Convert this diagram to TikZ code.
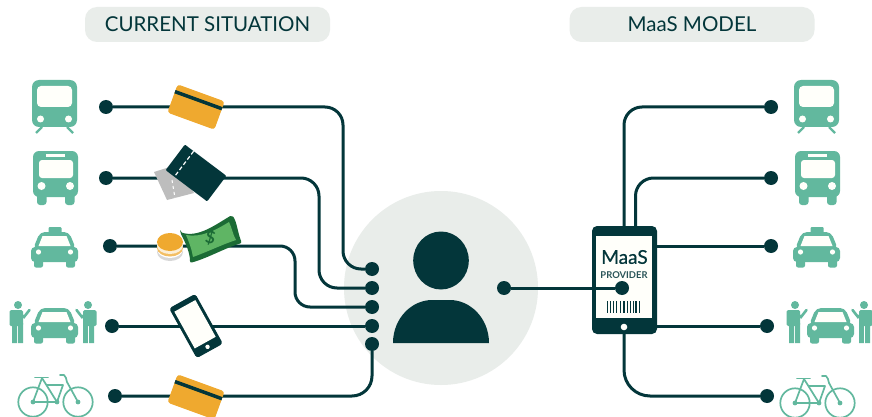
\documentclass[tikz,border=0pt]{standalone}
\usepackage{fontspec}
\setmainfont{Lato}
\usetikzlibrary{calc}
\definecolor{ink}{HTML}{03363A}
\definecolor{mint}{HTML}{62B89E}
\definecolor{pale}{HTML}{E9EDEA}
\definecolor{gold}{HTML}{EFA92F}
\definecolor{tick}{HTML}{BDBDBD}
\definecolor{billd}{HTML}{1B6B35}
\definecolor{billl}{HTML}{5FB564}
\definecolor{paper}{HTML}{FFFFFA}
\tikzset{
  x=1pt,y=-1pt,
  dot/.style={circle,fill=ink,draw=none,minimum size=14pt,inner sep=0pt},
  conn/.style={draw=ink,line width=3pt,rounded corners=18pt},
  header/.style={fill=pale,rounded corners=12pt,minimum width=245pt,minimum height=35pt,inner sep=0pt,text=ink,font=\fontsize{20.5}{22}\selectfont},
  trainicon/.pic={
    \fill[mint,rounded corners=7pt] (32,80) rectangle (77,127);
    \fill[paper,rounded corners=4pt] (37,86) rectangle (72,107);
    \fill[paper] (40.5,119) circle (3.5) (68.5,119) circle (3.5);
    \draw[mint,line width=2.4pt] (42,127) -- (36,133) (67,127) -- (73,133);
  },
  busicon/.pic={
    \fill[mint,rounded corners=6pt] (33,151) rectangle (78,197);
    \fill[mint,rounded corners=3pt] (37,190) rectangle (46.5,205) (65,190) rectangle (74.5,205);
    \fill[paper,rounded corners=3pt] (39,160) rectangle (73,178);
    \fill[paper] (46,153.5) rectangle (65,156.5);
    \fill[paper] (41.5,186) circle (4) (70,186) circle (4);
  },
  caricon/.pic={
    \fill[mint,rounded corners=2pt] (34,335) rectangle (43,343.5) (66,335) rectangle (75,343.5);
    \fill[mint,rounded corners=4pt] (31,323) rectangle (78,338);
    \fill[mint,rounded corners=5pt] (40,308) -- (69,308) -- (76,325) -- (33,325) -- cycle;
    \fill[paper] (42.5,312) -- (66.5,312) -- (70.5,322) -- (38.5,322) -- cycle;
    \fill[paper] (38.5,328) circle (2.6) (70.5,328) circle (2.6);
  },
  taxilamp/.pic={\fill[mint,rounded corners=1pt] (48.5,227) rectangle (61.5,234);},
  manicon/.pic={
    \fill[mint] (0,-18) circle (4);
    \fill[mint,rounded corners=1.5pt] (-8.5,-13) rectangle (5,3);
    \fill[mint] (-6,0) rectangle (-1,20) (0.2,0) rectangle (5,20);
    \draw[mint,line width=2.6pt,line cap=round] (3.5,-8) -- (6,-6) -- (11.5,-13);
  },
  bikeicon/.pic={
    \draw[mint,line width=1.7pt] (33,402) circle (14.7) (78,402) circle (14.7);
    \draw[mint,line width=1.7pt,line join=round] (33,402) -- (57,402) -- (42,378) -- cycle;
    \draw[mint,line width=1.7pt,line join=round] (46,385) -- (63,385) -- (57,402);
    \draw[mint,line width=1.7pt,line cap=round,line join=round] (35,377.5) -- (48,377.5);
    \draw[mint,line width=1.7pt,line cap=round,line join=round] (60,375) -- (64,375) .. controls (66,376) and (66,379) .. (67,382) -- (78,402);
    \fill[mint] (33,402) circle (2.4) (57,402) circle (2.4) (78,402) circle (2.4);
  },
  cardicon/.pic={
    \fill[gold,rounded corners=3pt] (-25,-15) rectangle (25,15);
    \fill[ink] (-25,-9) rectangle (25,-5.5);
  },
}
\begin{document}
\begin{tikzpicture}
\useasboundingbox (0,0) rectangle (872,417);
\fill[white] (0,0) rectangle (872,417);
\node[header] (h1) at (207.5,24.5) {CURRENT SITUATION};
\node[header] (h2) at (692,24.5) {MaaS MODEL};
\node[circle,fill=pale,minimum size=194pt,inner sep=0pt] (hubbg) at (441,288) {};
% nodes of connectors
\node[dot] (l1) at (106,107) {};
\node[dot] (l2) at (106,178) {};
\node[dot] (l3) at (110,246) {};
\node[dot] (l4) at (112,326) {};
\node[dot] (l5) at (115,396) {};
\node[dot] (c1) at (372,269) {};
\node[dot] (c2) at (372,288) {};
\node[dot] (c3) at (372,307) {};
\node[dot] (c4) at (372,326) {};
\node[dot] (c5) at (372,344) {};
\node[dot] (hub) at (504,288) {};
\node[dot] (r1) at (771,107) {};
\node[dot] (r2) at (771,178) {};
\node[dot] (r3) at (771,246) {};
\node[dot] (r4) at (767,326) {};
\node[dot] (r5) at (767,396) {};
\coordinate (b1) at (343,200);
\coordinate (b2) at (319,240);
\coordinate (b3) at (295,280);
\coordinate (t1) at (624,260);
\coordinate (t2) at (635.5,260);
\coordinate (t3) at (624,320);
% connectors
\path[conn] (l1) -| (c1 -| b1) -- (c1);
\path[conn] (l2) -| (c2 -| b2) -- (c2);
\path[conn,rounded corners=15pt] (l3) -| (c3 -| b3) -- (c3);
\path[conn,rounded corners=0pt] (l4) -- (c4);
\path[conn,rounded corners=20pt] (l5) -| (c5);
\path[conn] (t1) |- (r1);
\path[conn] (t2) |- (r2);
\path[conn,rounded corners=0pt] (t1 |- r3) -- (r3);
\path[conn,rounded corners=0pt] (t1 |- r4) -- (r4);
\path[conn,rounded corners=26pt] (t3) |- (r5);
% phone (provider)
\node[fill=ink,rounded corners=5pt,minimum width=65pt,minimum height=108pt,inner sep=0pt] (phone) at (624.5,280) {};
\node[fill=paper,minimum width=56pt,minimum height=82pt,inner sep=0pt] (scr) at (624,277) {};
\fill[paper] (624,327) circle (3.3);
\node[text=ink,font=\fontsize{19}{20}\selectfont\addfontfeatures{FakeBold=0.6},inner sep=0pt] (t-maas) at (624.5,257) {MaaS};
\node[text=ink!85,font=\fontsize{9.4}{10}\selectfont\bfseries,inner sep=0pt] (t-prov) at (624,275.5) {PROVIDER};
\foreach \xa/\w in {607/1,609.5/1.6,613/0.8,616/1,619.5/1,623/1.6,627/0.8,629.5/1.8,632.5/1,635/1.8,638.5/1.8}
  \fill[ink] (\xa,301) rectangle ++(\w,12);
\node[dot] (pd) at (622,288) {};
\path[conn,rounded corners=0pt] (hub) -- (pd);
% person
\fill[ink] (441,260.5) ellipse (27.8 and 29);
\fill[ink] (393,343) .. controls (393,318) and (412,300) .. (432,300) -- (450,300) .. controls (470,300) and (489,318) .. (489,343) -- cycle;
% left icons
\pic {trainicon};
\pic {busicon};
\pic at (0,-76) {caricon};
\pic {taxilamp};
\pic {caricon};
\pic at (18,323) {manicon};
\pic[xscale=-1] at (88,323) {manicon};
\pic {bikeicon};
% right icons
\pic at (762,0) {trainicon};
\pic at (762,0) {busicon};
\pic at (762,-76) {caricon};
\pic at (762,0) {taxilamp};
\pic at (776,0) {caricon};
\pic at (795,323) {manicon};
\pic[xscale=-1] at (864,323) {manicon};
\pic at (762,1) {bikeicon};
% cards
\pic[rotate=-20] at (196,107) {cardicon};
\pic[rotate=-20] at (196,397) {cardicon};
% tickets
\fill[tick] (154,172) -- (176,165) -- (194,193) -- (167,200) -- cycle;
\draw[white,line width=1pt,dashed] (172,180) -- (175,198);
\begin{scope}[shift={(196,173)},rotate=-37]
  \fill[ink,rounded corners=1pt] (-26,-16) rectangle (26,16);
  \draw[white,line width=1.2pt,dash pattern=on 4pt off 2.5pt] (-15,-16) -- (-15,16);
\end{scope}
% coins
\fill[tick!60] (170,252) ellipse (13 and 9);
\fill[white] (170,249) ellipse (13 and 9);
\fill[gold!75] (170,248) ellipse (13 and 8.5);
\fill[white!80!gold] (170,245.5) ellipse (13 and 8.5);
\fill[gold] (170,242) ellipse (13 and 9);
% bill
\fill[billd,rounded corners=2pt] (180,232) .. controls (198,238) and (215,225) .. (232,215) .. controls (237,222) and (238,234) .. (242,243) .. controls (225,248) and (208,258) .. (190,263) .. controls (190,252) and (185,242) .. (180,232) -- cycle;
\fill[billl] (186,235) .. controls (201,238) and (216,230) .. (229,222) .. controls (232,228) and (233,235) .. (236,240) .. controls (221,245) and (207,252) .. (193,257) .. controls (192,250) and (189,242) .. (186,235) -- cycle;
\node[text=billd,rotate=-12,font=\fontsize{17}{18}\selectfont\bfseries,inner sep=0pt] (dollar) at (210.5,238) {\$};
% smartphone
\begin{scope}[shift={(196,326)},rotate=29]
  \fill[ink,rounded corners=3pt] (-15,-28.5) rectangle (15,28.5);
  \fill[paper] (-12,-23) rectangle (12,19);
  \fill[paper] (0,23.8) circle (2.2);
\end{scope}
\end{tikzpicture}
\end{document}
